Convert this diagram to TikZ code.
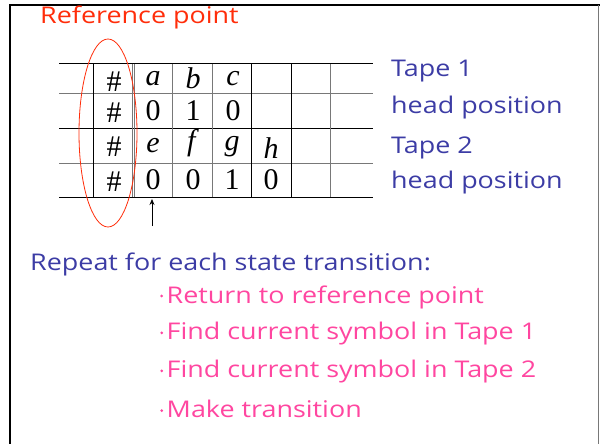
\documentclass[tikz,border=0pt]{standalone}
\usepackage{fontspec}
\setmainfont{Liberation Serif}
\newfontfamily\comicfont[FakeStretch=1.17]{Open Sans}
\usetikzlibrary{arrows.meta}
\definecolor{refred}{RGB}{255,45,10}
\definecolor{tapeblue}{RGB}{60,60,165}
\definecolor{stepink}{RGB}{255,70,160}
\definecolor{linegray}{RGB}{120,120,120}
\tikzset{
  cell/.style={inner sep=0pt, font=\fontsize{30}{30}\selectfont},
  blk/.style={draw=black, line width=1pt},
  gry/.style={draw=linegray, line width=1pt},
  bluetext/.style={anchor=west, inner sep=0pt, text=tapeblue, font=\comicfont\fontsize{23}{23}\selectfont},
  pinktext/.style={anchor=west, inner sep=0pt, text=stepink, font=\comicfont\fontsize{23}{23}\selectfont},
}
\newcommand{\pinkdot}{\raisebox{0.45ex}{\tikz\fill[stepink] (0,0) circle (1.5pt);}\hspace{3.5pt}}
\begin{document}
\begin{tikzpicture}[x=1pt,y=-1pt]
\useasboundingbox (0,0) rectangle (600,444);
% frame
\draw[line width=2pt] (10,444) -- (10,5) -- (600,5);
\draw[linegray, line width=0.8pt] (598,5) -- (598,444);
% table horizontal lines
\draw[blk] (59,64) -- (373,64);
\draw[gry] (59,94) -- (373,94);
\draw[blk] (59,128) -- (373,128);
\draw[gry] (59,163) -- (373,163);
\draw[blk] (59,197) -- (373,197);
% vertical lines
\draw[blk] (93,64) -- (93,197);
\draw[gry] (132,64) -- (132,197);
\draw[gry] (134.5,64) -- (134.5,197);
\draw[gry] (172,64) -- (172,197);
\draw[gry] (212,64) -- (212,197);
\draw[blk] (251,64) -- (251,197);
\draw[blk] (291,64) -- (291,197);
\draw[gry] (330,64) -- (330,197);
% cells
\node[cell] (h1) at (114,82) {\#};
\node[cell] (a) at (153,79) {\textit{a}};
\node[cell] (b) at (193,78) {\textit{b}};
\node[cell] (c) at (233,79) {\textit{c}};
\node[cell] (h2) at (114,113) {\#};
\node[cell] (t10) at (153,111) {0};
\node[cell] (t11) at (193,111) {1};
\node[cell] (t12) at (233,111) {0};
\node[cell] (h3) at (114,147) {\#};
\node[cell] (e) at (153,146) {\textit{e}};
\node[cell] (f) at (193,143) {\textit{f}};
\node[cell] (g) at (232,147) {\textit{g}};
\node[cell] (hh) at (271,148) {\textit{h}};
\node[cell] (h4) at (114,182) {\#};
\node[cell] (t20) at (153,180) {0};
\node[cell] (t21) at (193,180) {0};
\node[cell] (t22) at (232,180) {1};
\node[cell] (t23) at (271,180) {0};
% reference ellipse
\draw[refred, line width=0.8pt] (108,133) ellipse [x radius=29, y radius=94];
% head arrow
\coordinate (arrowfoot) at (152,226);
\coordinate (arrowtip) at (152,199);
\draw[-{Stealth[length=6pt,width=5pt]}, line width=0.8pt] (arrowfoot) -- (arrowtip);
% labels
\node[anchor=west, inner sep=0pt, text=refred, font=\comicfont\fontsize{23}{23}\selectfont] (ref) at (40,17) {Reference point};
\node[bluetext] (tape1) at (391,71) {Tape 1};
\node[bluetext] (head1) at (391,108) {head position};
\node[bluetext] (tape2) at (391,148) {Tape 2};
\node[bluetext] (head2) at (391,183) {head position};
\node[bluetext] (repeat) at (30,264) {Repeat for each state transition:};
\node[pinktext] (s1) at (160,297) {\pinkdot Return to reference point};
\node[pinktext] (s2) at (160,334) {\pinkdot Find current symbol in Tape 1};
\node[pinktext] (s3) at (160,372) {\pinkdot Find current symbol in Tape 2};
\node[pinktext] (s4) at (160,409) {\pinkdot Make transition};
\end{tikzpicture}
\end{document}
